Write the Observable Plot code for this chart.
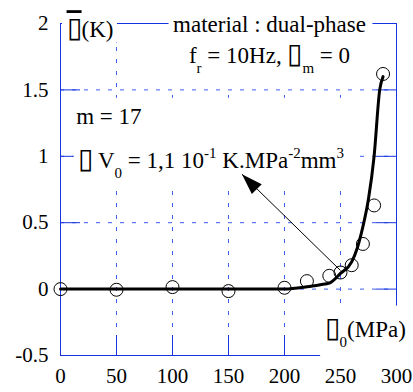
<!DOCTYPE html>
<html><head><meta charset="utf-8">
<script src="https://cdn.jsdelivr.net/npm/d3@7"></script>
<script src="https://cdn.jsdelivr.net/npm/@observablehq/plot@0.6"></script>
<style>
body{margin:0;background:#fff}
svg{display:block}
#chart svg, #chart svg text, #chart svg tspan { font-family: "Liberation Serif", "Times New Roman", serif !important; }
</style>
</head><body><div id="chart"></div>
<script>
// ---- data ----
const stressTicks = [0, 50, 100, 150, 200, 250, 300];
const tempTicks = [-0.5, 0, 0.5, 1, 1.5, 2];
const measStress = [0, 50, 100, 150, 200, 220, 240, 250, 260, 270, 280, 288];
const measTemp = [0, -0.005, 0.015, -0.015, 0.01, 0.06, 0.1, 0.125, 0.18, 0.34, 0.63, 1.62];
const modelStress = [0, 200, 220, 232, 240, 250, 260, 265, 270, 275, 280, 285, 288];
const modelTemp = [0, 0, 0.017, 0.033, 0.045, 0.118, 0.205, 0.31, 0.47, 0.68, 1.0, 1.5, 1.6];
const BOX = "\u25AF";

const meas = measStress.map((s, i) => ({s, t: measTemp[i]}));
const model = modelStress.map((s, i) => ({s, t: modelTemp[i]}));

const blue = "#1433e0", gridBlue = "#3d5eef";
const SVGNS = "http://www.w3.org/2000/svg";

function rich(parts, group, pad, opts) {
  return Plot.text([0], {
    fontSize: 23, lineAnchor: "bottom", textAnchor: "start", fill: "#000",
    ...opts,
    text: () => parts.map(p => p[0]).join(""),
    render(index, scales, values, dims, ctx, next) {
      const g = next(index, scales, values, dims, ctx);
      g.setAttribute("data-box", group);
      g.setAttribute("data-pad", pad.join(","));
      for (const t of g.querySelectorAll("text")) {
        t.textContent = "";
        let cur = 0;
        for (const [s, k] of parts) {
          const ts = document.createElementNS(SVGNS, "tspan");
          const target = k === "sub" ? 10 : k === "sup" ? -10 : 0;
          if (target !== cur) ts.setAttribute("dy", target - cur);
          cur = target;
          if (k === "sub" || k === "sup") ts.setAttribute("font-size", 15);
          if (k === "box" || k === "boxbar") ts.setAttribute("font-size", 28);
          if (k === "boxbar") ts.setAttribute("text-decoration", "overline");
          ts.textContent = s;
          t.appendChild(ts);
        }
      }
      return g;
    }
  });
}

const arrowHead = {
  draw(ctx) {
    ctx.moveTo(0, 0);
    ctx.lineTo(7, 21);
    ctx.lineTo(-7, 21);
    ctx.closePath();
  }
};

const plot = Plot.plot({
  width: 413, height: 392,
  marginLeft: 60, marginRight: 17, marginTop: 23, marginBottom: 37,
  style: {background: "#fff", overflow: "visible"},
  x: {domain: [0, 300]},
  y: {domain: [-0.5, 2]},
  marks: [
    Plot.gridX(stressTicks.slice(1, -1), {stroke: gridBlue, strokeOpacity: 1, strokeDasharray: "4,8"}),
    Plot.gridY(tempTicks.slice(1, -1), {stroke: gridBlue, strokeOpacity: 1, strokeDasharray: "4,8"}),
    Plot.tickY(tempTicks.slice(1, -1), {stroke: blue, insetRight: 316}),
    Plot.tickY(tempTicks.slice(1, -1), {stroke: blue, insetLeft: 316}),
    Plot.tickX(stressTicks.slice(1, -1), {stroke: blue, insetTop: 312}),
    Plot.tickX(stressTicks.slice(1, -1), {stroke: blue, insetBottom: 312}),
    Plot.frame({stroke: blue}),
    Plot.axisX(stressTicks, {label: null, tickSize: 0, tickPadding: 13, fontSize: 21, tickFormat: d => String(d), fill: "#000"}),
    Plot.axisY(tempTicks, {label: null, tickSize: 0, tickPadding: 12, fontSize: 21, tickFormat: d => String(d), fill: "#000"}),
    rich([[BOX, "boxbar"], ["(K)", ""]], "k", [2, 4, 0, 4], {x: 5.4, y: 1.897}),
    rich([["material : dual-phase", ""]], "mat", [2, 7, 11, 4], {x: 186.6, y: 1.935, textAnchor: "middle"}),
    rich([["f", ""], ["r", "sub"], [" = 10Hz, ", ""], [BOX, "box"], ["m", "sub"], [" = 0", ""]], "mat", [2, 7, 11, 4], {x: 186.6, y: 1.699, textAnchor: "middle"}),
    rich([["m = 17", ""]], "v", [6, 10, 6, 2], {x: 14.0, y: 1.241}),
    rich([[BOX, "box"], [" V", ""], ["0", "sub"], [" = 1,1 10", ""], ["-1", "sup"], [" K.MPa", ""], ["-2", "sup"], ["mm", ""], ["3", "sup"]], "v", [6, 10, 6, 2], {x: 15.3, y: 0.91}),
    rich([[BOX, "box"], ["0", "sub"], ["(MPa)", ""]], "s", [6, 8, 12, 4], {x: 235.8, y: -0.361}),
    Plot.line(model, {x: "s", y: "t", stroke: "#000", strokeWidth: 3, curve: "monotone-x"}),
    Plot.dot(meas, {x: "s", y: "t", r: 6.5, stroke: "#000", strokeWidth: 1, fill: "none"}),
    Plot.link([0], {x1: 250, y1: 0.14, x2: 162, y2: 0.865, stroke: "#000", strokeWidth: 1}),
    Plot.dot([0], {x: 162, y: 0.865, symbol: arrowHead, fill: "#000", stroke: "none", rotate: -45})
  ]
});

document.getElementById("chart").appendChild(plot);

// white text boxes behind annotation groups
const groups = {};
for (const g of plot.querySelectorAll("g[data-box]")) {
  const id = g.getAttribute("data-box");
  const pad = g.getAttribute("data-pad").split(",").map(Number);
  const b = g.getBBox();
  if (!groups[id]) groups[id] = {x1: Infinity, y1: Infinity, x2: -Infinity, y2: -Infinity, pad, first: g};
  const G = groups[id];
  G.x1 = Math.min(G.x1, b.x); G.y1 = Math.min(G.y1, b.y);
  G.x2 = Math.max(G.x2, b.x + b.width); G.y2 = Math.max(G.y2, b.y + b.height);
}
for (const id in groups) {
  const G = groups[id], [pt, pr, pb, pl] = G.pad;
  const r = document.createElementNS(SVGNS, "rect");
  r.setAttribute("x", G.x1 - pl); r.setAttribute("y", G.y1 - pt);
  r.setAttribute("width", G.x2 - G.x1 + pl + pr); r.setAttribute("height", G.y2 - G.y1 + pt + pb);
  r.setAttribute("fill", "#fff");
  G.first.parentNode.insertBefore(r, G.first);
}
</script>
</body></html>
